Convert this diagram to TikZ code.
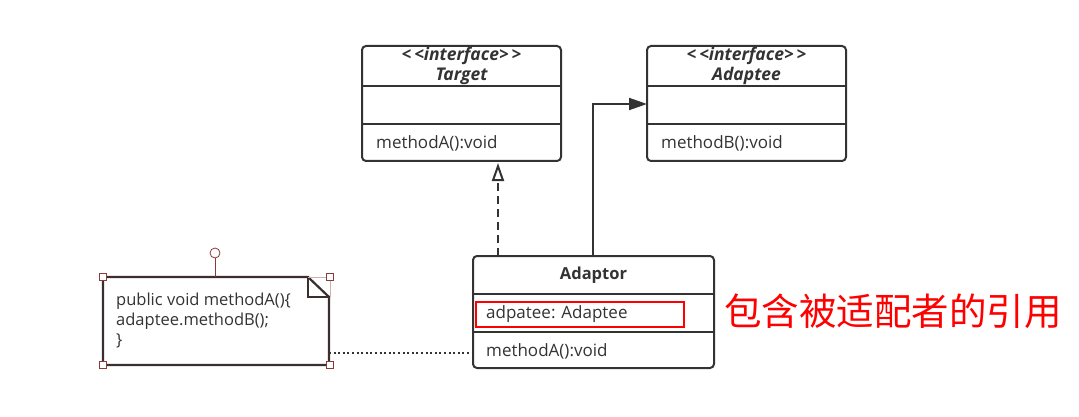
\documentclass[tikz,border=0pt]{standalone}
\usepackage{fontspec}
\setmainfont{Open Sans}
\newfontfamily\cjk{Noto Sans CJK SC}
\usetikzlibrary{arrows.meta}
\definecolor{boxline}{HTML}{333333}
\definecolor{txt}{HTML}{333333}
\definecolor{handle}{HTML}{8B3A3A}
\definecolor{notebd}{HTML}{3A2E2E}
\begin{document}
\begin{tikzpicture}[x=1pt,y=-1pt,
  umlbox/.style={draw=boxline,line width=2pt,rounded corners=4pt,fill=white},
  divider/.style={draw=boxline,line width=1.8pt},
  lbl/.style={inner sep=0pt,text=txt,font=\fontsize{17}{19}\selectfont,anchor=west},
  ttl/.style={inner sep=0pt,text=txt,font=\fontsize{17.5}{19}\selectfont\bfseries\itshape},
  nt/.style={inner sep=0pt,text=txt,font=\fontsize{16.5}{18}\selectfont,anchor=west},
  hnd/.style={draw=handle,line width=0.8pt,fill=white,minimum size=7pt,inner sep=0pt},
  conn/.style={draw=boxline,line width=2pt}]
\useasboundingbox (0,0) rectangle (1079,417);
\fill[white] (0,0) rectangle (1079,417);

% Target
\draw[umlbox] (362,46) rectangle (561,161);
\coordinate (tgtS) at (498,163);
\draw[divider] (362,86) -- (561,86);
\draw[divider] (362,124) -- (561,124);
\node[ttl] (tgtst) at (461.5,56) {<{\,}<interface>{\,}>};
\node[ttl] (tgtnm) at (461.5,76) {Target};
\node[lbl] (tgtm) at (376,143) {methodA():void};

% Adaptee
\draw[umlbox] (647,46) rectangle (846,161);
\coordinate (adpW) at (647,104);
\draw[divider] (647,86) -- (846,86);
\draw[divider] (647,124) -- (846,124);
\node[ttl] (adpst) at (746.5,56) {<{\,}<interface>{\,}>};
\node[ttl] (adpnm) at (746.5,76) {Adaptee};
\node[lbl] (adpm) at (661,143) {methodB():void};

% Adaptor
\draw[umlbox] (473,256) rectangle (714,368);
\coordinate (adrT1) at (498,256);
\coordinate (adrT2) at (593,256);
\coordinate (adrW) at (473,353);
\draw[divider] (473,294) -- (714,294);
\draw[divider] (473,332) -- (714,332);
\node[inner sep=0pt,text=txt,font=\fontsize{16.5}{18}\selectfont\bfseries] (adrnm) at (593.5,275) {Adaptor};
\draw[red,line width=1.5pt] (476,302) rectangle (684,327);
\node[lbl] (adrf) at (486,314) {adpatee: Adaptee};
\node[lbl] (adrm) at (486,351) {methodA():void};

% connectors
\draw[conn,dashed,dash pattern=on 8pt off 5pt,-{Triangle[open,length=18pt,width=12pt,line width=2pt]}] (adrT1) -- (tgtS);
\draw[conn,-{Triangle[length=18pt,width=12pt]}] (adrT2) -- (593,104) -- (adpW);

% note
\draw[notebd,line width=2.2pt,fill=white] (103,277) -- (308,277) -- (329,297) -- (329,365) -- (103,365) -- cycle;
\draw[notebd,line width=2.2pt] (308,277) -- (308,297) -- (329,297);
\coordinate (noteE) at (329,353);
\draw[handle!40,line width=0.8pt] (308,277) -- (330,277) -- (330,297);
\draw[handle,line width=0.8pt] (215,258) -- (215,277);
\node[draw=handle,line width=0.8pt,fill=white,circle,minimum size=10pt,inner sep=0pt] (rot) at (215,253) {};
\node[hnd] (h1) at (103,277) {};
\node[hnd] (h2) at (330,277) {};
\node[hnd] (h3) at (103,365) {};
\node[hnd] (h4) at (330,365) {};
\node[nt] (n1) at (116,301) {public void methodA()\{};
\node[nt] (n2) at (116,321) {adaptee.methodB();};
\node[nt] (n3) at (116,341) {\}};

\draw[boxline,line width=2pt,dash pattern=on 2pt off 2.6pt] (noteE) -- (adrW);

% Chinese label
\node[inner sep=0pt,anchor=west,text=red,font=\cjk\fontsize{37.5}{40}\selectfont] (cn) at (724,311) {包含被适配者的引用};
\end{tikzpicture}
\end{document}
